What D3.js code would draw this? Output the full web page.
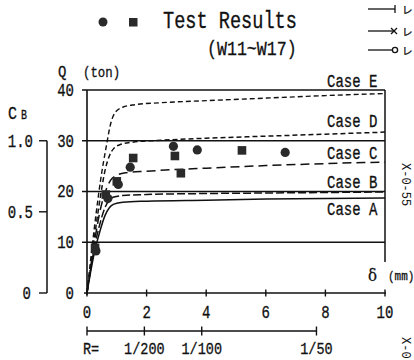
<!DOCTYPE html>
<html><head><meta charset="utf-8">
<script src="https://cdn.jsdelivr.net/npm/d3@7"></script>
<style>html,body{margin:0;padding:0;background:#fff}svg{display:block}</style>
</head><body>
<script>
// ---- data ----
const caseNames = ["Case A","Case B","Case C","Case D","Case E"];
const caseA = [[0,0],[0.25,8],[0.45,12.5],[0.6,15.2],[0.75,16.8],[0.9,17.5],[1.2,17.9],[2,18.1],[4,18.3],[6,18.5],[10,18.7]];
const caseB = [[0,0],[0.25,9],[0.45,14],[0.6,16.8],[0.75,18.3],[0.9,18.9],[1.2,19.2],[2,19.4],[4,19.6],[6,19.7],[10,19.9]];
const caseC = [[0,0],[0.25,10],[0.45,16.5],[0.65,20.5],[0.8,22.3],[1.0,23.2],[1.3,23.7],[2,24.0],[4,24.6],[6,25.1],[8,25.5],[10,25.8]];
const caseD = [[0,0],[0.25,11],[0.45,19],[0.6,24],[0.75,27],[0.9,28.5],[1.1,29.2],[1.5,29.7],[2.5,30.1],[4,30.5],[6,30.9],[8,31.3],[10,31.7]];
const caseE = [[0,0],[0.25,13],[0.45,22],[0.65,29],[0.8,33.5],[0.95,35.6],[1.2,36.6],[1.6,37.1],[2.5,37.5],[4,37.9],[6,38.4],[8,38.9],[10,39.3]];
const testCircles = [[0.3,8.3],[0.7,18.6],[1.05,21.4],[1.45,24.8],[2.9,28.9],[3.7,28.2],[6.65,27.7]];
const testSquares = [[0.27,8.9],[0.63,19.4],[1.0,22.0],[1.55,26.6],[2.95,27.0],[3.15,23.6],[5.2,28.1]];
const xTicks = [0,2,4,6,8,10];
const yTicks = [0,10,20,30,40];
const cbTicks = [0,0.5,1.0];
const cbTickLabels = ["0","0.5","1.0"];
const rTicks = [0,1/200,1/100,1/50];
const rTickLabels = ["","1/200","1/100","1/50"];
const storyHeight = 385; // mm, R = delta / H

// ---- setup ----
const W=414,H=360;
const svg=d3.select("body").append("svg").attr("width",W).attr("height",H);
svg.append("rect").attr("width",W).attr("height",H).attr("fill","#fff");
const ink="#111";
const FONT="'Liberation Mono', 'DejaVu Sans Mono', monospace";
const SY=1.27;

const xs=d3.scaleLinear([0,10],[87,385]);
const ys=d3.scaleLinear([0,40],[293,90]);
const cb=d3.scaleLinear([0,0.5,1],[ys(0),ys(16),ys(30)]);

function txt(x,y,s,size,anchor,opts={}){
  const g=svg.append("g").attr("transform",`translate(${x},${y}) scale(1,${opts.sy||SY})`);
  return g.append("text").attr("x",0).attr("y",0).attr("font-family",opts.font||FONT)
    .attr("font-size",size).attr("text-anchor",anchor||"start").attr("fill",ink)
    .attr("stroke",ink).attr("stroke-width",0.25).text(s);
}

// gridlines (Q ticks)
svg.append("g").selectAll("line").data(yTicks.filter(d=>d>0)).join("line")
  .attr("x1",82).attr("x2",xs(10)).attr("y1",d=>ys(d)).attr("y2",d=>ys(d))
  .attr("stroke",ink).attr("stroke-width",1.5);
// y tick labels
yTicks.forEach(d=>txt(74,ys(d)+5.8,String(d),14,"end"));

// left axis
svg.append("line").attr("x1",xs(0)).attr("x2",xs(0)).attr("y1",ys(40)).attr("y2",ys(0)+2).attr("stroke",ink).attr("stroke-width",1.6);
// right frame
svg.append("line").attr("x1",xs(10)).attr("x2",xs(10)).attr("y1",ys(40)).attr("y2",262).attr("stroke",ink).attr("stroke-width",1.5);
// x axis
svg.append("line").attr("x1",84).attr("x2",xs(10)+1).attr("y1",ys(0)).attr("y2",ys(0)).attr("stroke",ink).attr("stroke-width",1.6);
svg.append("g").selectAll("line").data(xTicks).join("line")
  .attr("x1",d=>xs(d)).attr("x2",d=>xs(d)).attr("y1",ys(0)-3.5).attr("y2",ys(0)+3.5)
  .attr("stroke",ink).attr("stroke-width",1.4);
xTicks.forEach(d=>txt(xs(d),318,String(d),14,"middle"));

// delta label
txt(368,281,"δ",15,"start",{font:"'DejaVu Serif', serif",sy:1.1});
txt(388,280,"(mm)",11,"start",{sy:1.2});

// R axis
const rx=r=>xs(r*storyHeight);
svg.append("line").attr("x1",rx(0)).attr("x2",rx(1/50)).attr("y1",331).attr("y2",331).attr("stroke",ink).attr("stroke-width",1.5);
svg.append("g").selectAll("line").data(rTicks).join("line")
  .attr("x1",d=>rx(d)).attr("x2",d=>rx(d)).attr("y1",326.5).attr("y2",335.5).attr("stroke",ink).attr("stroke-width",1.4);
rTicks.forEach((d,i)=>{ if(rTickLabels[i]) txt(rx(d),353.5,rTickLabels[i],13.5,"middle",{sy:1.2}); });
txt(83,353.5,"R=",13.5,"start",{sy:1.2});

// CB axis
const cbx=47;
svg.append("line").attr("x1",cbx).attr("x2",cbx).attr("y1",cb(1)).attr("y2",cb(0)).attr("stroke",ink).attr("stroke-width",1.5);
svg.append("g").selectAll("line").data(cbTicks).join("line")
  .attr("x1",39).attr("x2",cbx).attr("y1",d=>cb(d)).attr("y2",d=>cb(d)).attr("stroke",ink).attr("stroke-width",1.4);
cbTicks.forEach((d,i)=>txt(d===0?31:33,cb(d)+5.8,cbTickLabels[i],14,"end"));
txt(8,119,"C",15,"start");
txt(21,119,"B",10,"start");

// Q label
txt(58,76.5,"Q",14,"start",{sy:1.2});
txt(83,76.5,"(ton)",12.4,"start",{sy:1.2});

// curves
const line=d3.line().x(d=>xs(d[0])).y(d=>ys(d[1])).curve(d3.curveMonotoneX);
const curves=[
  {d:caseA,dash:null,w:1.5},
  {d:caseB,dash:"8,3",w:1.5},
  {d:caseC,dash:"9,5",w:1.5},
  {d:caseD,dash:"5,3",w:1.5},
  {d:caseE,dash:"5,3",w:1.4}
];
svg.append("g").selectAll("path").data(curves).join("path")
  .attr("d",c=>line(c.d)).attr("fill","none").attr("stroke",ink)
  .attr("stroke-width",c=>c.w).attr("stroke-dasharray",c=>c.dash);

// case labels
const caseLabelY=[215,188,159,127,87];
caseNames.forEach((n,i)=>txt(327,caseLabelY[i],n,14,"start"));

// test results
svg.append("g").selectAll("rect").data(testSquares).join("rect")
  .attr("x",d=>xs(d[0])-4.3).attr("y",d=>ys(d[1])-4.3).attr("width",8.6).attr("height",8.6)
  .attr("fill","#2a2a2a");
svg.append("g").selectAll("circle").data(testCircles).join("circle")
  .attr("cx",d=>xs(d[0])).attr("cy",d=>ys(d[1])).attr("r",4.6).attr("fill","#2a2a2a");

// title / legend
svg.append("circle").attr("cx",103).attr("cy",22).attr("r",4.5).attr("fill","#2a2a2a");
svg.append("rect").attr("x",129).attr("y",18).attr("width",8.5).attr("height",8.5).attr("fill","#2a2a2a");
txt(163,28,"Test Results",18.6,"start");
txt(207,55,"(W11~W17)",16.6,"start");

// top-right legend
const lg=[9,31,50];
lg.forEach(y=>svg.append("line").attr("x1",368).attr("x2",395).attr("y1",y).attr("y2",y).attr("stroke",ink).attr("stroke-width",1.3));
svg.append("line").attr("x1",395).attr("x2",395).attr("y1",5).attr("y2",13).attr("stroke",ink).attr("stroke-width",1.3);
svg.append("path").attr("d","M391,28L397,34M397,28L391,34").attr("stroke",ink).attr("stroke-width",1.3);
svg.append("circle").attr("cx",395).attr("cy",50).attr("r",2.6).attr("fill","#fff").attr("stroke",ink).attr("stroke-width",1.3);
lg.forEach(y=>txt(402,y+4.5,"レ",10.5,"start",{font:"'Noto Sans CJK JP', sans-serif",sy:1}));

// rotated fragments on right edge
svg.append("text").attr("transform","translate(402,163) rotate(90)").attr("font-family",FONT)
  .attr("font-size",12).attr("fill",ink).text("X-0-55");
svg.append("text").attr("transform","translate(402,337) rotate(90)").attr("font-family",FONT)
  .attr("font-size",12).attr("fill",ink).text("X-0");
</script>
</body></html>
